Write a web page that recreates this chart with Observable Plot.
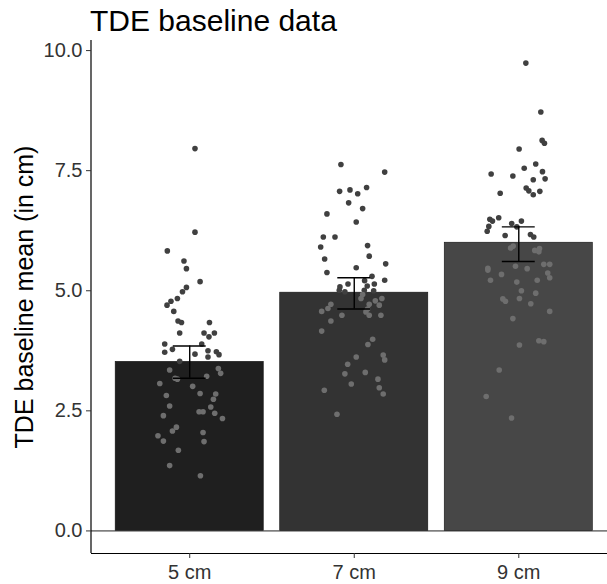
<!DOCTYPE html>
<html><head><meta charset="utf-8">
<script src="https://cdn.jsdelivr.net/npm/d3@7"></script>
<script src="https://cdn.jsdelivr.net/npm/@observablehq/plot@0.6"></script>
<style>
body{margin:0;background:#fff;}
#wrap{position:relative;width:607px;height:584px;overflow:hidden;font-family:"Liberation Sans",Arial,sans-serif;}
#title{position:absolute;left:90px;top:1px;height:40px;line-height:40px;font-size:30px;color:#000;white-space:nowrap;}
#chart{position:absolute;left:0;top:40px;}
</style></head>
<body><div id="wrap"><div id="title">TDE baseline data</div><div id="chart"></div></div>
<script>
const groups = ["5 cm", "7 cm", "9 cm"];
const barMeans = [3.52, 4.96, 6.00];
const errLow = [3.18, 4.62, 5.61];
const errHigh = [3.85, 5.27, 6.33];
const yTicks = [0, 2.5, 5, 7.5, 10];
const yTitle = "TDE baseline mean (in cm)";

const values5 = [7.96,6.22,5.83,5.62,5.46,5.19,5.07,4.98,4.84,4.78,4.70,4.57,4.37,4.34,4.34,4.12,4.12,4.04,4.12,3.89,3.89,3.78,3.72,3.68,3.75,3.62,3.73,3.67,3.53,3.35,3.38,3.28,3.18,3.16,3.22,3.07,3.01,2.86,2.85,2.82,2.74,2.60,2.58,2.48,2.48,2.45,2.34,2.40,2.16,2.08,1.98,1.87,2.05,1.86,1.68,1.36,1.15];
const jitter5 = [0.032,0.032,-0.136,-0.035,-0.020,0.063,-0.020,-0.044,-0.075,-0.114,-0.138,-0.097,-0.071,-0.050,0.120,-0.061,0.087,0.117,0.150,-0.152,0.073,-0.105,-0.152,0.032,0.111,0.111,0.162,0.178,-0.061,-0.122,0.174,0.188,-0.089,-0.075,0.103,-0.182,0.018,0.063,0.158,-0.142,0.144,-0.122,0.128,0.057,0.081,0.152,0.199,-0.160,-0.081,-0.105,-0.193,-0.160,0.081,0.087,-0.069,-0.122,0.065];
const values7 = [7.63,7.47,7.07,7.10,7.02,7.15,6.83,6.71,6.60,6.43,6.12,6.12,5.91,5.94,5.72,5.66,5.56,5.48,5.38,5.30,5.22,5.21,5.14,5.14,5.08,5.10,5.01,5.01,5.00,4.98,4.92,4.84,4.84,4.79,4.72,4.72,4.63,4.62,4.70,4.57,4.56,4.49,4.49,4.49,4.37,4.16,3.99,3.88,3.62,3.66,3.56,3.47,3.30,3.27,3.16,3.06,2.98,2.93,2.85,2.43];
const jitter7 = [-0.081,0.185,-0.089,-0.026,0.021,0.075,-0.034,0.051,-0.166,0.012,-0.188,-0.117,-0.204,0.081,0.091,-0.180,0.191,0.012,-0.166,0.108,0.185,0.063,-0.038,0.122,-0.087,0.079,-0.091,0.061,0.118,-0.057,0.051,0.168,0.041,0.128,-0.142,0.091,-0.160,0.081,0.152,-0.198,0.071,0.091,-0.075,0.162,-0.142,-0.198,0.112,0.083,0.012,0.176,0.185,-0.040,0.067,-0.057,0.144,-0.018,0.152,-0.182,0.176,-0.105];
const values9 = [9.74,8.72,8.13,8.07,7.95,7.64,7.55,7.48,7.43,7.39,7.33,7.31,7.14,7.08,7.07,7.03,7.00,6.52,6.49,6.45,6.34,6.24,6.40,6.45,6.33,6.15,6.17,6.12,5.89,5.93,5.84,5.88,5.81,5.51,5.46,5.55,5.55,5.47,5.43,5.34,5.37,5.27,5.22,5.18,5.22,5.00,4.95,4.84,4.83,4.78,4.73,4.57,4.42,3.96,3.94,3.87,3.35,2.80,2.35];
const jitter9 = [0.043,0.134,0.142,0.156,0.002,0.103,0.033,0.144,-0.168,-0.036,0.160,0.088,0.045,0.061,0.128,-0.113,0.088,-0.122,-0.176,-0.160,-0.182,-0.192,-0.043,0.016,-0.012,-0.083,0.071,0.091,-0.050,-0.034,0.097,0.126,0.122,-0.020,0.051,0.152,0.188,-0.188,-0.188,-0.105,0.176,0.188,-0.172,-0.012,0.112,0.016,0.103,0.004,-0.097,-0.081,0.073,0.188,-0.036,0.122,0.152,0.004,-0.119,-0.198,-0.044];

// styles
const barColors = ["#1f1f1f", "#333333", "#474747"];
const dotAbove = "#404040", dotInside = "#6e6e6e";
const barHalf = 0.45, capHalf = 0.1;
const xDomain = [0.4, 3.6], yDomain = [-0.47, 10.21];

const bars = groups.map((g, i) => ({group: g, pos: i + 1, mean: barMeans[i], lo: errLow[i], hi: errHigh[i], fill: barColors[i]}));
const pointSets = [[values5, jitter5], [values7, jitter7], [values9, jitter9]];
const points = pointSets.flatMap(([vals, jit], i) => vals.map((v, k) => ({group: groups[i], pos: i + 1, jit: jit[k], value: v, mean: barMeans[i]})));

const chart = Plot.plot({
  width: 607, height: 544,
  marginLeft: 91, marginRight: 0, marginTop: 0, marginBottom: 31,
  style: {fontFamily: "Liberation Sans, Arial, sans-serif", background: "transparent", overflow: "hidden"},
  x: {domain: xDomain, range: [90.5, 617]},
  y: {domain: yDomain},
  color: {type: "identity"},
  marks: [
    Plot.rect(bars, {x1: d => d.pos - barHalf, x2: d => d.pos + barHalf, y1: d => 0, y2: "mean", fill: "fill", stroke: "#111", strokeWidth: 0.6}),
    Plot.ruleY([0], {stroke: "#222", strokeWidth: 1}),
    Plot.dot(points, {x: d => d.pos + d.jit, y: "value", r: 2.8, fill: d => d.value > d.mean ? dotAbove : dotInside, stroke: "none"}),
    Plot.ruleX(bars, {x: "pos", y1: "lo", y2: "hi", stroke: "#000", strokeWidth: 1.4}),
    Plot.ruleY(bars, {y: "hi", x1: d => d.pos - capHalf, x2: d => d.pos + capHalf, stroke: "#000", strokeWidth: 1.4}),
    Plot.ruleY(bars, {y: "lo", x1: d => d.pos - capHalf, x2: d => d.pos + capHalf, stroke: "#000", strokeWidth: 1.4}),
    Plot.ruleX([xDomain[0]], {stroke: "#000", strokeWidth: 1.2}),
    Plot.ruleY([yDomain[0]], {stroke: "#000", strokeWidth: 1.2}),
    Plot.axisY({ticks: yTicks, tickFormat: d3.format(".1f"), tickSize: 5, tickPadding: 4, fontSize: 20, color: "#333", label: null}),
    Plot.axisX({ticks: [1, 2, 3], tickFormat: d => groups[d - 1], tickSize: 5, tickPadding: 6, fontSize: 20, color: "#333", label: null}),
    Plot.text([yTitle], {text: d => d, frameAnchor: "left", textAnchor: "middle", rotate: -90, dx: -67, fontSize: 25, fill: "#000"})
  ]
});
document.getElementById("chart").appendChild(chart);
</script>
</body></html>
